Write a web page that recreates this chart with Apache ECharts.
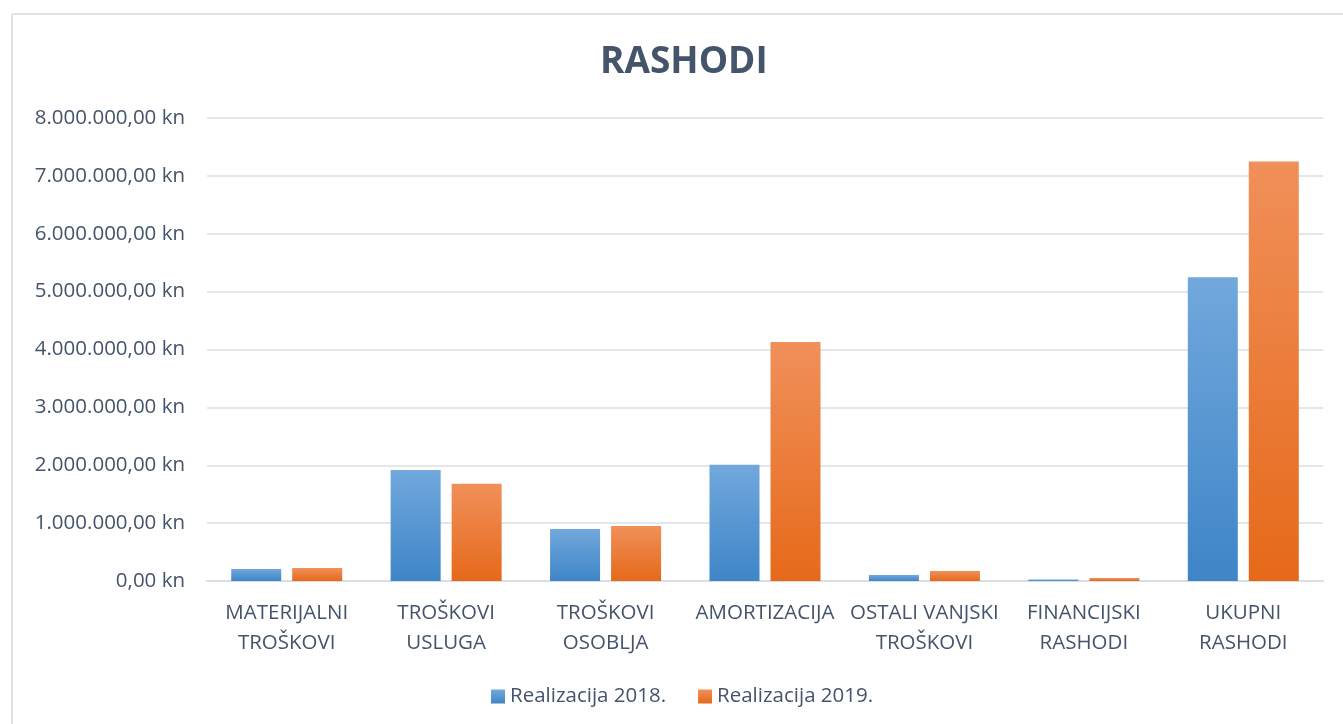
<!DOCTYPE html>
<html>
<head>
<meta charset="utf-8">
<script src="https://cdn.jsdelivr.net/npm/echarts@6/dist/echarts.min.js"></script>
<style>
  html, body { margin: 0; padding: 0; background: #fff; }
  #main { width: 1343px; height: 724px; }
</style>
</head>
<body>
<div id="main"></div>
<script>
const categories = [
  'MATERIJALNI\nTROŠKOVI',
  'TROŠKOVI\nUSLUGA',
  'TROŠKOVI\nOSOBLJA',
  'AMORTIZACIJA',
  'OSTALI VANJSKI\nTROŠKOVI',
  'FINANCIJSKI\nRASHODI',
  'UKUPNI\nRASHODI'
];
const realizacija2018 = [207000, 1920000, 900000, 2010000, 104000, 25000, 5250000];
const realizacija2019 = [225000, 1680000, 950000, 4130000, 173000, 50000, 7250000];
const yTicks = { min: 0, max: 8000000, interval: 1000000 };

const textColor = '#44546a';
const font = '"Open Sans", "DejaVu Sans", sans-serif';

function formatKn(v) {
  const s = Math.round(v).toString().replace(/\B(?=(\d{3})+(?!\d))/g, '.');
  return s + ',00 kn';
}

function grad(top, bottom) {
  return new echarts.graphic.LinearGradient(0, 0, 0, 1, [
    { offset: 0, color: top },
    { offset: 1, color: bottom }
  ]);
}

const chart = echarts.init(document.getElementById('main'));

chart.setOption({
  animation: false,
  textStyle: { fontFamily: font },
  graphic: [
    { type: 'line', shape: { x1: 12, y1: 14, x2: 1343, y2: 14 }, style: { stroke: '#dfe3e8', lineWidth: 2 } },
    { type: 'line', shape: { x1: 12, y1: 14, x2: 12, y2: 724 }, style: { stroke: '#dfe3e8', lineWidth: 2 } }
  ],
  title: {
    text: 'RASHODI',
    left: 595,
    top: 39,
    textStyle: { color: textColor, fontSize: 37, fontWeight: 'bold', fontFamily: font }
  },
  legend: {
    bottom: 12,
    left: 486,
    itemWidth: 14,
    itemHeight: 14,
    itemGap: 32,
    icon: 'rect',
    textStyle: { color: textColor, fontSize: 20.5, fontFamily: font },
    data: ['Realizacija 2018.', 'Realizacija 2019.']
  },
  grid: { left: 207, right: 20, top: 118, bottom: 143, containLabel: false },
  xAxis: {
    type: 'category',
    data: categories,
    axisLine: { lineStyle: { color: '#d9dde4', width: 2 } },
    axisTick: { show: false },
    axisLabel: { color: textColor, fontSize: 20.5, lineHeight: 30, margin: 17, interval: 0, fontFamily: font }
  },
  yAxis: {
    type: 'value',
    min: yTicks.min,
    max: yTicks.max,
    interval: yTicks.interval,
    axisLine: { show: false },
    axisTick: { show: false },
    splitLine: { lineStyle: { color: '#e3e6ea', width: 2 } },
    axisLabel: { color: textColor, fontSize: 20.5, margin: 22, formatter: formatKn, fontFamily: font }
  },
  series: [
    {
      name: 'Realizacija 2018.',
      type: 'bar',
      data: realizacija2018,
      barWidth: 50,
      barGap: '22%',
      itemStyle: { color: grad('#72a8dc', '#3e85c7') }
    },
    {
      name: 'Realizacija 2019.',
      type: 'bar',
      data: realizacija2019,
      barWidth: 50,
      itemStyle: { color: grad('#f0905a', '#e6691a') }
    }
  ]
});
</script>
</body>
</html>
